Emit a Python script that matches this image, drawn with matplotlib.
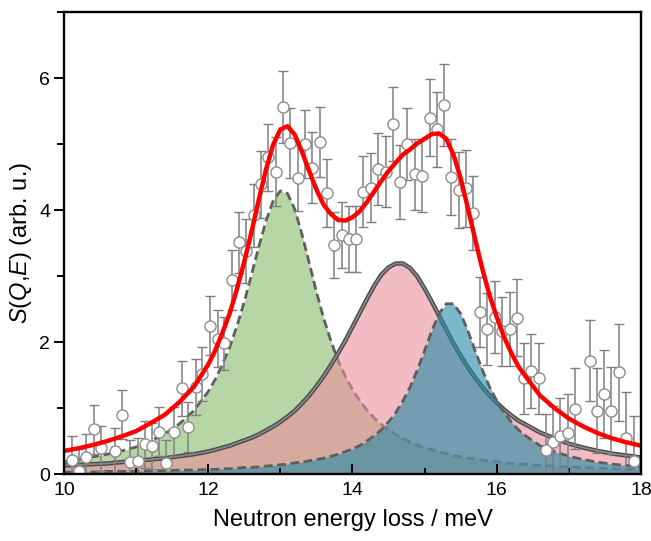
import numpy as np
import matplotlib
matplotlib.use('Agg')
import matplotlib.pyplot as plt
from matplotlib.ticker import MultipleLocator

plt.rcParams['font.family'] = ['Liberation Sans', 'DejaVu Sans']
plt.rcParams['mathtext.fontset'] = 'custom'
plt.rcParams['mathtext.rm'] = 'Liberation Sans'
plt.rcParams['mathtext.it'] = 'Liberation Sans:italic'

# measured points (energy, intensity, error)
energy = [10.11, 10.21, 10.30, 10.41, 10.51, 10.71, 10.81, 10.92, 11.02, 11.12,
          11.22, 11.32, 11.42, 11.52, 11.63, 11.72, 11.83, 11.92, 12.03, 12.13,
          12.22, 12.33, 12.43, 12.53, 12.64, 12.73, 12.83, 12.94, 13.04, 13.14,
          13.24, 13.34, 13.44, 13.55, 13.65, 13.75, 13.85, 13.95, 14.05, 14.15,
          14.25, 14.36, 14.46, 14.56, 14.66, 14.76, 14.86, 14.97, 15.07, 15.17,
          15.27, 15.37, 15.47, 15.57, 15.67, 15.77, 15.87, 15.97, 16.07, 16.18,
          16.28, 16.38, 16.48, 16.58, 16.68, 16.78, 16.88, 16.99, 17.09, 17.29,
          17.39, 17.49, 17.59, 17.69, 17.79, 17.91]
intensity = [0.22, 0.05, 0.26, 0.68, 0.39, 0.35, 0.90, 0.18, 0.20, 0.45,
             0.42, 0.64, 0.16, 0.64, 1.30, 0.71, 1.32, 1.51, 2.25, 2.05,
             1.98, 2.94, 3.51, 3.38, 3.92, 4.39, 4.80, 4.58, 5.56, 5.02,
             4.48, 5.00, 4.64, 5.03, 4.26, 3.47, 3.62, 3.56, 3.56, 4.28,
             4.34, 4.62, 4.58, 5.30, 4.43, 5.00, 4.54, 4.52, 5.40, 5.22,
             5.59, 4.50, 4.30, 4.33, 3.96, 2.46, 2.20, 2.38, 2.16, 2.20,
             2.37, 1.45, 1.56, 1.45, 0.37, 0.49, 0.58, 0.62, 0.99, 1.72,
             0.96, 1.21, 0.96, 1.54, 0.54, 0.19]
error = [0.35, 0.33, 0.35, 0.37, 0.34, 0.35, 0.37, 0.34, 0.34, 0.36,
         0.35, 0.37, 0.35, 0.37, 0.42, 0.38, 0.42, 0.41, 0.45, 0.43,
         0.40, 0.46, 0.46, 0.48, 0.48, 0.51, 0.51, 0.52, 0.55, 0.53,
         0.50, 0.52, 0.54, 0.53, 0.51, 0.50, 0.50, 0.50, 0.50, 0.54,
         0.52, 0.54, 0.54, 0.56, 0.56, 0.55, 0.54, 0.55, 0.58, 0.57,
         0.62, 0.58, 0.58, 0.58, 0.56, 0.53, 0.55, 0.54, 0.52, 0.56,
         0.58, 0.54, 0.56, 0.54, 0.54, 0.54, 0.57, 0.60, 0.61, 0.62,
         0.64, 0.67, 0.66, 0.74, 0.70, 0.69]

# fitted components
e_fit = [10.0, 10.2, 10.4, 10.6, 10.8, 11.0, 11.2, 11.4, 11.6, 11.8,
         12.0, 12.1, 12.2, 12.3, 12.4, 12.5, 12.6, 12.7, 12.8, 12.9,
         13.0, 13.1, 13.2, 13.3, 13.4, 13.5, 13.6, 13.7, 13.8, 13.9,
         14.0, 14.1, 14.2, 14.3, 14.4, 14.5, 14.6, 14.7, 14.8, 14.9,
         15.0, 15.1, 15.2, 15.3, 15.4, 15.5, 15.6, 15.7, 15.8, 15.9,
         16.0, 16.1, 16.2, 16.3, 16.4, 16.6, 16.8, 17.0, 17.2, 17.4,
         17.6, 17.8, 18.0]
peak_green = [0.19, 0.22, 0.26, 0.30, 0.35, 0.41, 0.50, 0.61, 0.76, 0.96,
              1.25, 1.44, 1.67, 1.93, 2.25, 2.61, 3.02, 3.44, 3.83, 4.14,
              4.29, 4.25, 4.01, 3.63, 3.20, 2.76, 2.36, 2.02, 1.72, 1.48,
              1.28, 1.11, 0.97, 0.85, 0.75, 0.67, 0.60, 0.54, 0.48, 0.44,
              0.40, 0.37, 0.33, 0.31, 0.28, 0.26, 0.24, 0.23, 0.21, 0.20,
              0.19, 0.17, 0.16, 0.15, 0.15, 0.13, 0.12, 0.11, 0.10, 0.09,
              0.08, 0.07, 0.07]
peak_pink = [0.13, 0.14, 0.15, 0.16, 0.18, 0.20, 0.22, 0.24, 0.27, 0.30,
             0.34, 0.37, 0.40, 0.43, 0.47, 0.51, 0.55, 0.60, 0.66, 0.72,
             0.79, 0.87, 0.96, 1.07, 1.19, 1.33, 1.48, 1.65, 1.83, 2.02,
             2.23, 2.44, 2.65, 2.85, 3.02, 3.13, 3.19, 3.19, 3.12, 2.99,
             2.81, 2.61, 2.40, 2.19, 1.98, 1.79, 1.62, 1.46, 1.32, 1.19,
             1.08, 0.98, 0.89, 0.81, 0.75, 0.63, 0.54, 0.46, 0.40, 0.35,
             0.31, 0.28, 0.25]
peak_blue = [0.03, 0.03, 0.03, 0.04, 0.04, 0.04, 0.05, 0.05, 0.06, 0.06,
             0.07, 0.07, 0.08, 0.08, 0.09, 0.10, 0.10, 0.11, 0.12, 0.13,
             0.14, 0.15, 0.17, 0.18, 0.20, 0.22, 0.24, 0.27, 0.30, 0.34,
             0.38, 0.43, 0.50, 0.58, 0.67, 0.79, 0.93, 1.11, 1.32, 1.58,
             1.87, 2.17, 2.43, 2.58, 2.58, 2.43, 2.17, 1.87, 1.58, 1.32,
             1.11, 0.93, 0.79, 0.67, 0.58, 0.43, 0.34, 0.27, 0.22, 0.18,
             0.15, 0.13, 0.11]

total = np.array(peak_green) + np.array(peak_pink) + np.array(peak_blue)

fig = plt.figure(figsize=(6.51, 5.41), dpi=100)
ax = fig.add_axes([0.0983, 0.1238, 0.8863, 0.854])

dash = (3.2, 1.6)
ax.fill_between(e_fit, peak_green, color='#87bb69', alpha=0.6, lw=0, zorder=1)
ax.plot(e_fit, peak_green, color='#5e5e5e', lw=2, dashes=dash, zorder=1.1)
ax.fill_between(e_fit, peak_pink, color='#eb8e9b', alpha=0.6, lw=0, zorder=1.2)
ax.plot(e_fit, peak_pink, color='#4a4a4a', lw=3.2, zorder=1.3)
ax.plot(e_fit, peak_pink, color='#8a8a8a', lw=1.2, zorder=1.31)
ax.fill_between(e_fit, peak_blue, color='#2189a5', alpha=0.6, lw=0, zorder=1.4)
ax.plot(e_fit, peak_blue, color='#5e5e5e', lw=2, dashes=dash, zorder=1.5)

ax.errorbar(energy, intensity, yerr=error, fmt='o', ms=8, mfc='white',
            mec='#8c8c8c', mew=1, ecolor='#7f7f7f', elinewidth=1.1,
            capsize=3.5, capthick=1.1, zorder=2)

ax.plot(e_fit, total, color='#ff0000', lw=3.2, zorder=3)

ax.set_xlim(10, 18)
ax.set_ylim(0, 7)
ax.xaxis.set_major_locator(MultipleLocator(2))
ax.xaxis.set_minor_locator(MultipleLocator(1))
ax.yaxis.set_major_locator(MultipleLocator(2))
ax.yaxis.set_minor_locator(MultipleLocator(1))
ax.tick_params(axis='x', which='both', direction='in', labelsize=14, pad=6, width=1.4)
ax.tick_params(axis='x', which='major', length=7)
ax.tick_params(axis='x', which='minor', length=4)
ax.tick_params(axis='y', which='both', direction='out', labelsize=14, pad=3, width=1.4)
ax.tick_params(axis='y', which='major', length=7)
ax.tick_params(axis='y', which='minor', length=5)
for s in ax.spines.values():
    s.set_linewidth(1.7)
    s.set_zorder(4)

ax.set_xlabel('Neutron energy loss / meV', fontsize=17, labelpad=7)
ax.set_ylabel(r'$S$($Q$,$E$) (arb. u.)', fontsize=17, labelpad=4)

fig.savefig('out.png', dpi=100)
